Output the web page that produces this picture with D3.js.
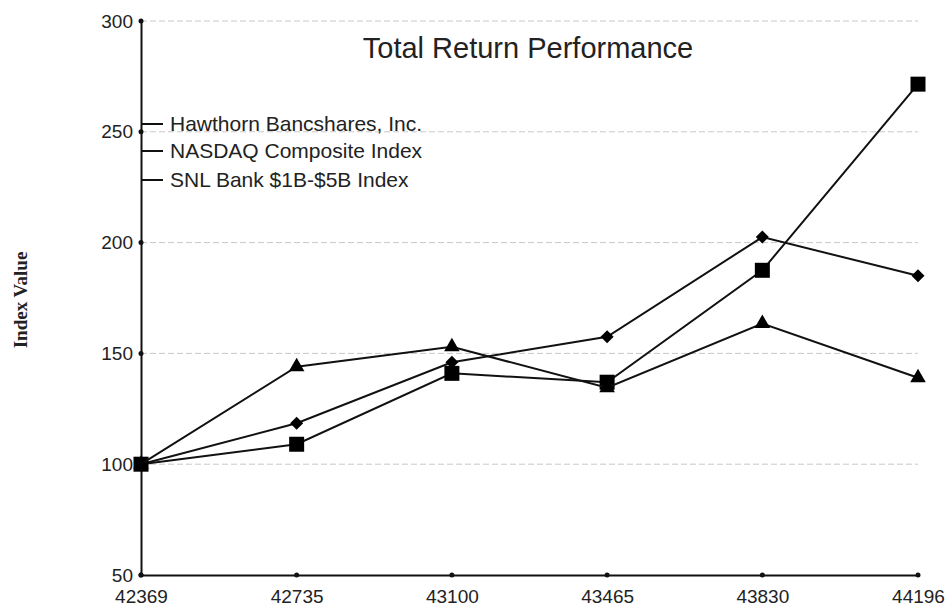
<!DOCTYPE html>
<html>
<head>
<meta charset="utf-8">
<script src="https://cdn.jsdelivr.net/npm/d3@7"></script>
<style>
  body { margin: 0; background: #fff; }
  text { font-family: "Liberation Sans", Arial, sans-serif; }
</style>
</head>
<body>
<svg id="chart" width="951" height="611"></svg>
<script>
const width = 951;
const height = 611;
const margin = { top: 21, right: 33, bottom: 36, left: 141 };

// data
const periods = [42369, 42735, 43100, 43465, 43830, 44196];
const hawthorn = [100, 118.5, 146, 157.5, 202.5, 185];
const nasdaq = [100, 109, 141, 137, 187.5, 271.5];
const snlBank = [100, 144, 153, 134.5, 163.5, 139];
const yTicks = [50, 100, 150, 200, 250, 300];

const series = [
  { name: "Hawthorn Bancshares, Inc.", values: hawthorn, symbol: d3.symbolSquare, size: 85, rotate: 45 },
  { name: "NASDAQ Composite Index", values: nasdaq, symbol: d3.symbolSquare, size: 225, rotate: 0 },
  { name: "SNL Bank $1B-$5B Index", values: snlBank, symbol: d3.symbolTriangle, size: 105, rotate: 0 }
];

const svg = d3.select("#chart");

const x = d3.scaleLinear()
    .domain([periods[0], periods[periods.length - 1]])
    .range([margin.left, width - margin.right]);

const y = d3.scaleLinear()
    .domain([50, 300])
    .range([height - margin.bottom, margin.top]);

// dashed grid lines
svg.append("g")
  .selectAll("line")
  .data(yTicks.filter(d => d > 50))
  .enter()
  .append("line")
    .attr("x1", margin.left)
    .attr("x2", width - margin.right)
    .attr("y1", d => y(d))
    .attr("y2", d => y(d))
    .attr("stroke", "#c8c8c8")
    .attr("stroke-width", 1)
    .attr("stroke-dasharray", "6,3");

// axes
const xAxis = svg.append("g")
    .attr("transform", "translate(0," + y(50) + ")")
    .call(d3.axisBottom(x).tickValues(periods).tickFormat(d3.format("d")).tickSize(0).tickPadding(15));

const yAxis = svg.append("g")
    .attr("transform", "translate(" + margin.left + ",0)")
    .call(d3.axisLeft(y).tickValues(yTicks).tickSize(0).tickPadding(8));

[xAxis, yAxis].forEach(function(a) {
  a.select(".domain").attr("stroke", "#111").attr("stroke-width", 2);
  a.selectAll("text").style("font-size", "19px").attr("fill", "#222");
});

// small dots at tick positions
svg.append("g").selectAll("circle")
  .data(periods)
  .enter()
  .append("circle")
    .attr("cx", d => x(d))
    .attr("cy", y(50))
    .attr("r", 2.5)
    .attr("fill", "#111");

svg.append("g").selectAll("circle")
  .data(yTicks)
  .enter()
  .append("circle")
    .attr("cx", margin.left)
    .attr("cy", d => y(d))
    .attr("r", 2.5)
    .attr("fill", "#111");

// lines + markers
const line = d3.line()
    .x((d, i) => x(periods[i]))
    .y(d => y(d));

series.forEach(function(s) {
  svg.append("path")
    .datum(s.values)
    .attr("d", line)
    .attr("fill", "none")
    .attr("stroke", "#111")
    .attr("stroke-width", 2);

  svg.append("g").selectAll("path")
    .data(s.values)
    .enter()
    .append("path")
      .attr("d", d3.symbol().type(s.symbol).size(s.size))
      .attr("transform", (d, i) => "translate(" + x(periods[i]) + "," + y(d) + ") rotate(" + s.rotate + ")")
      .attr("fill", "#000");
});

// legend (short lines, no markers)
const legendY = [124, 151, 180];
series.forEach(function(s, i) {
  svg.append("line")
    .attr("x1", margin.left)
    .attr("x2", margin.left + 22)
    .attr("y1", legendY[i])
    .attr("y2", legendY[i])
    .attr("stroke", "#111")
    .attr("stroke-width", 2);
  svg.append("text")
    .attr("x", margin.left + 29)
    .attr("y", legendY[i])
    .attr("dy", "0.35em")
    .style("font-size", "21px")
    .attr("fill", "#222")
    .text(s.name);
});

// title
svg.append("text")
    .attr("x", 528)
    .attr("y", 48)
    .attr("dy", "0.35em")
    .attr("text-anchor", "middle")
    .style("font-size", "29px")
    .attr("fill", "#222")
    .text("Total Return Performance");

// y axis title
svg.append("text")
    .attr("transform", "translate(20," + 300 + ") rotate(-90)")
    .attr("text-anchor", "middle")
    .attr("dy", "0.35em")
    .style("font-family", "'Liberation Serif', 'Times New Roman', serif")
    .style("font-size", "19px")
    .style("font-weight", "bold")
    .attr("fill", "#222")
    .text("Index Value");
</script>
</body>
</html>
